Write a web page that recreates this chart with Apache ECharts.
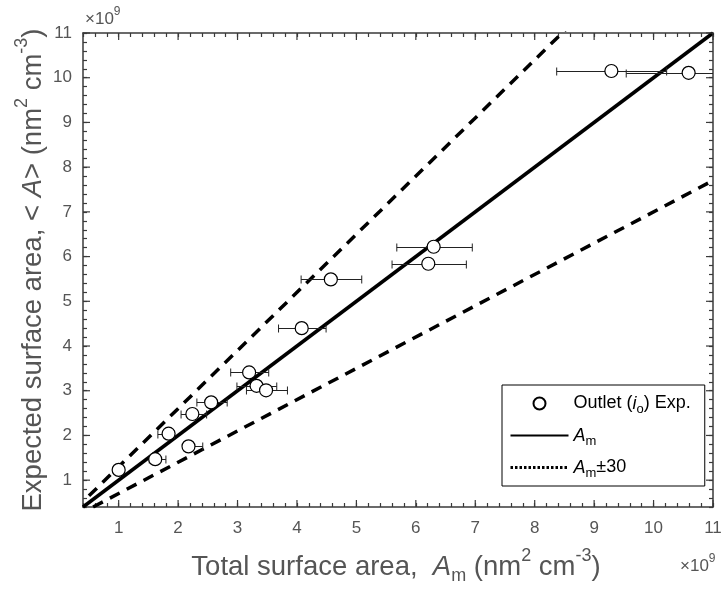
<!DOCTYPE html>
<html>
<head>
<meta charset="utf-8">
<script src="https://cdn.jsdelivr.net/npm/echarts@6/dist/echarts.min.js"></script>
<style>
html, body { margin: 0; padding: 0; background: #fff; }
#main { width: 723px; height: 593px; }
</style>
</head>
<body>
<div id="main"></div>
<script>
// measured points (x10^9), x error bars left / right
var expX = [1.00, 1.615, 1.84, 2.175, 2.24, 2.556, 3.195, 3.32, 3.48, 4.08, 4.57, 6.21, 6.30, 9.29, 10.59];
var expY = [1.23, 1.47, 2.04, 1.756, 2.48, 2.74, 3.41, 3.11, 3.01, 4.40, 5.49, 5.84, 6.22, 10.15, 10.11];
var errLo = [0.06, 0.10, 0.18, 0.08, 0.19, 0.24, 0.31, 0.33, 0.33, 0.39, 0.50, 0.61, 0.62, 0.92, 1.05];
var errHi = [0.06, 0.18, 0.10, 0.24, 0.24, 0.27, 0.33, 0.34, 0.36, 0.41, 0.52, 0.64, 0.65, 0.93, 1.05];

// model lines
var amX = [0.4, 11];
var amY = [0.4, 11];
var upX = [0.5, 11];
var upY = [0.65, 14.3];
var loX = [0.57, 11];
var loY = [0.4, 7.7];

var majorTicks = [1, 2, 3, 4, 5, 6, 7, 8, 9, 10, 11];
var axMin = 0.4, axMax = 11, minorStep = 0.2;

var FONT = '"Liberation Sans", Arial, Helvetica, sans-serif';
var AXC = '#3a3a3a';
var TXC = '#555';

function pairs(xs, ys) {
    var out = [];
    for (var i = 0; i < xs.length; i++) out.push([xs[i], ys[i]]);
    return out;
}

var errData = [];
for (var i = 0; i < expX.length; i++) {
    errData.push([expX[i] - errLo[i], expY[i], expX[i] + errHi[i]]);
}

// minor ticks come from the axis itself (every 0.2), labels only on integers
function axis(pos, showLabel) {
    return {
        type: 'value',
        position: pos,
        min: axMin,
        max: axMax,
        interval: minorStep,
        splitLine: { show: false },
        axisLine: { show: true, onZero: false, lineStyle: { color: AXC, width: 1.5 } },
        axisTick: { show: true, inside: true, length: 4, lineStyle: { color: AXC, width: 1.2 } },
        axisLabel: {
            show: showLabel,
            customValues: majorTicks,
            color: TXC,
            fontSize: 17,
            fontFamily: FONT,
            margin: (pos === 'bottom' || pos === 'top') ? 13 : 11
        }
    };
}

var titleRich = {
    n: { fontSize: 27.5, lineHeight: 30, fontFamily: FONT, fill: TXC },
    i: { fontSize: 27.5, lineHeight: 30, fontFamily: FONT, fontStyle: 'italic', fill: TXC },
    s: { fontSize: 18, lineHeight: 18, fontFamily: FONT, fill: TXC, padding: [18, 0, 0, 0] },
    p: { fontSize: 18, lineHeight: 18, fontFamily: FONT, fill: TXC, padding: [0, 0, 22, 0] }
};
var expRich = {
    n: { fontSize: 17, lineHeight: 20, fontFamily: FONT, fill: TXC },
    p: { fontSize: 12, lineHeight: 12, fontFamily: FONT, fill: TXC, padding: [0, 0, 14, 0] }
};

var legendNames = {
    exp: '{n|Outlet (}{i|i}{s|o}{n|) Exp.}',
    am: '{i|A}{s|m}',
    am30: '{i|A}{s|m}{n|\u00b130}'
};

var myChart = echarts.init(document.getElementById('main'));
var option = {
    backgroundColor: '#fff',
    animation: false,
    grid: { left: 83, top: 33, right: 10, bottom: 86, containLabel: false, outerBoundsMode: 'none' },
    xAxis: [axis('bottom', true), axis('top', false)],
    yAxis: [axis('left', true), axis('right', false)],
    legend: {
        orient: 'vertical',
        left: 502,
        top: 385,
        padding: [6, 14, 6, 7],
        itemGap: 7,
        itemWidth: 58,
        itemHeight: 12,
        borderColor: '#000',
        borderWidth: 1,
        backgroundColor: '#fff',
        data: [
            { name: 'exp' },
            { name: 'am', itemStyle: { opacity: 0 } },
            { name: 'am30', itemStyle: { opacity: 0 }, lineStyle: { type: [2.5, 2], width: 3 } }
        ],
        formatter: function (name) { return legendNames[name]; },
        textStyle: {
            color: '#000',
            rich: {
                n: { fontSize: 18, lineHeight: 20, fontFamily: FONT, color: '#000' },
                i: { fontSize: 18, lineHeight: 20, fontFamily: FONT, fontStyle: 'italic', color: '#000' },
                s: { fontSize: 13, lineHeight: 13, fontFamily: FONT, color: '#000', padding: [12, 0, 0, 0] }
            }
        }
    },
    series: [
        {
            // longer major ticks on all four sides
            name: 'majorTicks',
            type: 'custom',
            z: 3,
            silent: true,
            data: majorTicks.map(function (t) { return [t, t]; }),
            encode: { x: 0, y: 1 },
            renderItem: function (params, api) {
                var v = api.value(0), len = 7;
                var pb = api.coord([v, axMin]), pt = api.coord([v, axMax]);
                var pl = api.coord([axMin, v]), pr = api.coord([axMax, v]);
                var st = { stroke: AXC, lineWidth: 1.2 };
                return {
                    type: 'group',
                    children: [
                        { type: 'line', shape: { x1: pb[0], y1: pb[1], x2: pb[0], y2: pb[1] - len }, style: st },
                        { type: 'line', shape: { x1: pt[0], y1: pt[1], x2: pt[0], y2: pt[1] + len }, style: st },
                        { type: 'line', shape: { x1: pl[0], y1: pl[1], x2: pl[0] + len, y2: pl[1] }, style: st },
                        { type: 'line', shape: { x1: pr[0], y1: pr[1], x2: pr[0] - len, y2: pr[1] }, style: st }
                    ]
                };
            }
        },
        {
            name: 'am',
            type: 'line',
            data: pairs(amX, amY),
            symbol: 'none',
            z: 2,
            lineStyle: { color: '#000', width: 3.5 },
            itemStyle: { color: '#000' }
        },
        {
            name: 'am30',
            type: 'line',
            data: pairs(upX, upY),
            symbol: 'none',
            z: 2,
            lineStyle: { color: '#000', width: 3.5, type: [11, 8] },
            itemStyle: { color: '#000' }
        },
        {
            name: 'am30',
            type: 'line',
            data: pairs(loX, loY),
            symbol: 'none',
            z: 2,
            lineStyle: { color: '#000', width: 3.5, type: [11, 8] },
            itemStyle: { color: '#000' }
        },
        {
            name: 'err',
            type: 'custom',
            z: 3,
            clip: true,
            data: errData,
            encode: { x: [0, 2], y: 1 },
            renderItem: function (params, api) {
                var y = api.value(1);
                var a = api.coord([api.value(0), y]);
                var b = api.coord([api.value(2), y]);
                var h = 4;
                var yy = Math.round(a[1]) + 0.5;
                var st = { stroke: '#222', lineWidth: 1 };
                return {
                    type: 'group',
                    children: [
                        { type: 'line', shape: { x1: a[0], y1: yy, x2: b[0], y2: yy }, style: st },
                        { type: 'line', shape: { x1: a[0], y1: yy - h, x2: a[0], y2: yy + h }, style: st },
                        { type: 'line', shape: { x1: b[0], y1: yy - h, x2: b[0], y2: yy + h }, style: st }
                    ]
                };
            }
        },
        {
            name: 'exp',
            type: 'scatter',
            z: 4,
            data: pairs(expX, expY),
            symbol: 'circle',
            symbolSize: 13,
            itemStyle: { color: '#fff', borderColor: '#000', borderWidth: 1.2, opacity: 1 }
        }
    ],
    graphic: [
        {
            type: 'text', x: 396, y: 567,
            style: {
                text: '{n|Total surface area,  }{i|A}{s|m}{n| (nm}{p|2}{n| cm}{p|-3}{n|)}',
                rich: titleRich, align: 'center', verticalAlign: 'middle'
            }
        },
        {
            type: 'text', x: 33, y: 270, rotation: Math.PI / 2,
            style: {
                text: '{n|Expected surface area, < }{i|A}{n|> (nm}{p|2}{n| cm}{p|-3}{n|)}',
                rich: titleRich, align: 'center', verticalAlign: 'middle'
            }
        },
        {
            type: 'text', x: 85, y: 19,
            style: { text: '{n|\u00d710}{p|9}', rich: expRich, align: 'left', verticalAlign: 'middle' }
        },
        {
            type: 'text', x: 680, y: 566,
            style: { text: '{n|\u00d710}{p|9}', rich: expRich, align: 'left', verticalAlign: 'middle' }
        }
    ]
};
myChart.setOption(option);
</script>
</body>
</html>
